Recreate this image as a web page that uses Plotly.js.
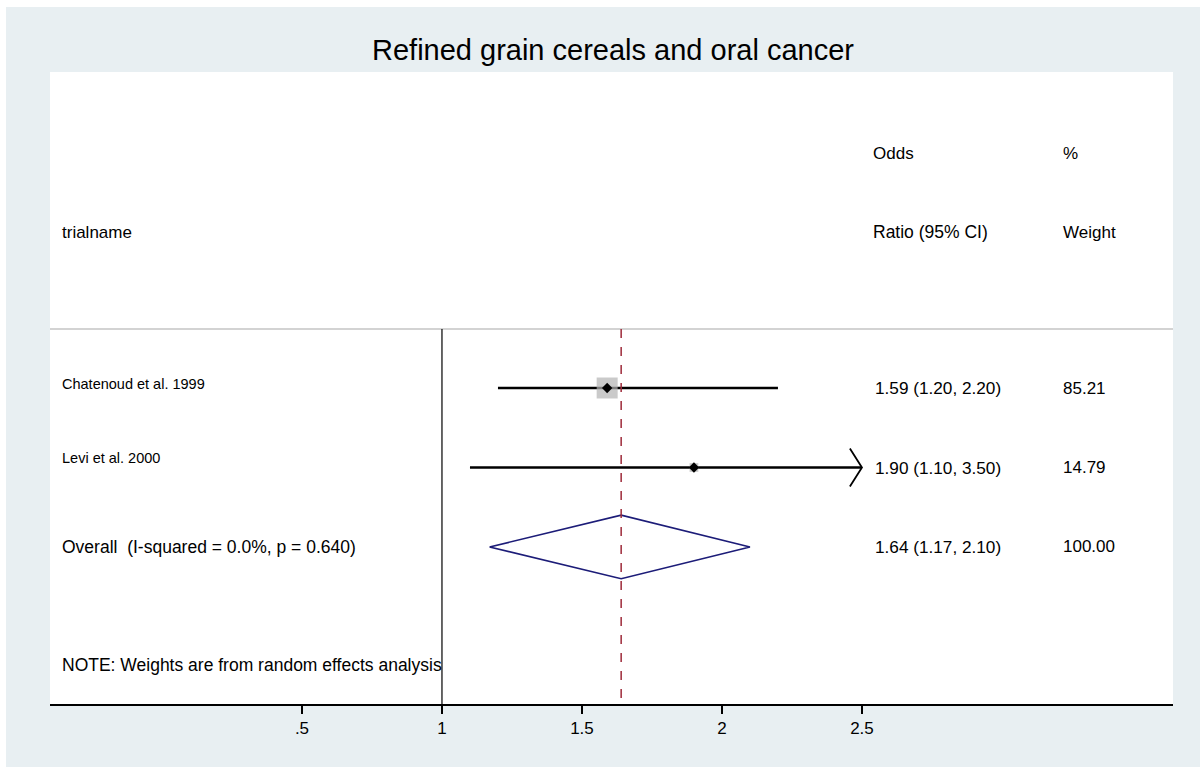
<!DOCTYPE html>
<html>
<head>
<meta charset="utf-8">
<script src="https://cdn.plot.ly/plotly-3.0.1.min.js"></script>
<style>
html,body{margin:0;padding:0;background:#ffffff;}
#chart{position:absolute;left:6px;top:7px;width:1194px;height:760px;}
</style>
</head>
<body>
<div id="chart"></div>
<script>
// ---- data ----
const studies = ["Chatenoud et al. 1999", "Levi et al. 2000"];
const orValues = [1.59, 1.90];
const ciLower = [1.20, 1.10];
const ciUpper = [2.20, 3.50];
const weights = [85.21, 14.79];
const ciText = ["1.59 (1.20, 2.20)", "1.90 (1.10, 3.50)"];
const weightText = ["85.21", "14.79"];
const overallLabel = "Overall  (I-squared = 0.0%, p = 0.640)";
const overallOR = 1.64;
const overallLower = 1.17;
const overallUpper = 2.10;
const overallCIText = "1.64 (1.17, 2.10)";
const overallWeightText = "100.00";
const tickValues = [0.5, 1, 1.5, 2, 2.5];
const tickLabels = [".5", "1", "1.5", "2", "2.5"];
const titleText = "Refined grain cereals and oral cancer";
const noteText = "NOTE: Weights are from random effects analysis";

// ---- layout helpers ----
const FONT = "Arial, 'Liberation Sans', sans-serif";
const xClip = 2.5;           // display clipping limit
const rows = studies.map((s, i) => i + 1);
const overallRow = studies.length + 1;
const noteRow = overallRow + 1.484;
const headerLineRow = 0.258;
const traces = [];

// CI lines
studies.forEach((s, i) => {
  const hi = Math.min(ciUpper[i], xClip);
  traces.push({x: [ciLower[i], hi], y: [rows[i], rows[i]], mode: "lines",
    line: {color: "#000000", width: 2.4}, hoverinfo: "skip", showlegend: false});
  if (ciUpper[i] > xClip) {
    const dx = 0.043, dy = 0.24;
    traces.push({x: [xClip - dx, xClip, xClip - dx], y: [rows[i] - dy, rows[i], rows[i] + dy],
      mode: "lines", line: {color: "#000000", width: 1.8}, hoverinfo: "skip", showlegend: false});
  }
});
// weight boxes
const k = 21 / Math.sqrt(Math.max(...weights));
traces.push({x: orValues, y: rows, mode: "markers",
  marker: {symbol: "square", size: weights.map(w => k * Math.sqrt(w)), color: "#b4b4b4", line: {width: 0}},
  hoverinfo: "skip", showlegend: false});
// point estimates
traces.push({x: orValues, y: rows, mode: "markers",
  marker: {symbol: "diamond", size: 8, color: "#000000"}, hoverinfo: "skip", showlegend: false});
// overall diamond
const dh = 0.4;
traces.push({x: [overallLower, overallOR, overallUpper, overallOR, overallLower],
  y: [overallRow, overallRow - dh, overallRow, overallRow + dh, overallRow],
  mode: "lines", fill: "none", line: {color: "#1c1c78", width: 1.6},
  hoverinfo: "skip", showlegend: false});

const yBottom = 4.975, yTop = -2.975;
const shapes = [
  {type: "line", xref: "paper", yref: "y", x0: 0, x1: 1, y0: headerLineRow, y1: headerLineRow,
   line: {color: "#c4c4c4", width: 1.5}},
  {type: "line", xref: "x", yref: "y", x0: 1, x1: 1, y0: headerLineRow, y1: yBottom,
   line: {color: "#000000", width: 1.2}},
  {type: "line", xref: "x", yref: "y", x0: overallOR, x1: overallOR, y0: headerLineRow, y1: yBottom,
   line: {color: "#9e2a3a", width: 1.5, dash: "dash"}}
];

const px = p => (p - 50) / 1123; // helper for text column placement (paper coords)
const colLabel = px(60), colCI = px(871), colW = px(1061);
const ann = [];
function txt(x, y, text, size, yshift) {
  ann.push({xref: "paper", yref: "y", x: x, y: y, text: text, showarrow: false,
    xanchor: "left", yanchor: "middle", yshift: yshift || 0,
    font: {family: FONT, size: size, color: "#000000"}});
}
txt(colLabel, -0.962, "trialname", 17);
txt(colCI, -1.956, "Odds", 17);
txt(colCI, -0.962, "Ratio (95% CI)", 17.5);
txt(colW, -1.956, "%", 17);
txt(colW, -0.962, "Weight", 17);
studies.forEach((s, i) => {
  txt(colLabel, rows[i], s, 14.5, i === 0 ? 4 : 10);
  txt(colCI + 2 / 1123, rows[i], ciText[i], 17.2);
  txt(colW, rows[i], weightText[i], 17);
});
txt(colLabel, overallRow, overallLabel, 17.5);
txt(colCI + 2 / 1123, overallRow, overallCIText, 17.2);
txt(colW, overallRow, overallWeightText, 17);
txt(colLabel, noteRow, noteText, 17.5);

const layout = {
  width: 1194, height: 760,
  paper_bgcolor: "#e8eff2", plot_bgcolor: "#ffffff",
  margin: {l: 44, r: 27, t: 65, b: 63},
  title: {text: titleText, x: 0.5 + 10 / 1194, xref: "container", y: 1 - 43 / 760, yref: "container",
    yanchor: "middle", xanchor: "center",
    font: {family: FONT, size: 29, color: "#000000"}},
  xaxis: {range: [-0.4, 3.611], tickmode: "array", tickvals: tickValues, ticktext: tickLabels,
    showgrid: false, zeroline: false, showline: true, linecolor: "#000000", linewidth: 1.5,
    ticks: "outside", ticklen: 8, tickwidth: 1.3, tickcolor: "#000000",
    tickfont: {family: FONT, size: 17, color: "#000000"}, fixedrange: true},
  yaxis: {range: [yBottom, yTop], showgrid: false, zeroline: false, showline: false,
    showticklabels: false, ticks: "", fixedrange: true},
  shapes: shapes,
  annotations: ann,
  showlegend: false
};
Plotly.newPlot("chart", traces, layout, {displayModeBar: false, staticPlot: true});
</script>
</body>
</html>
